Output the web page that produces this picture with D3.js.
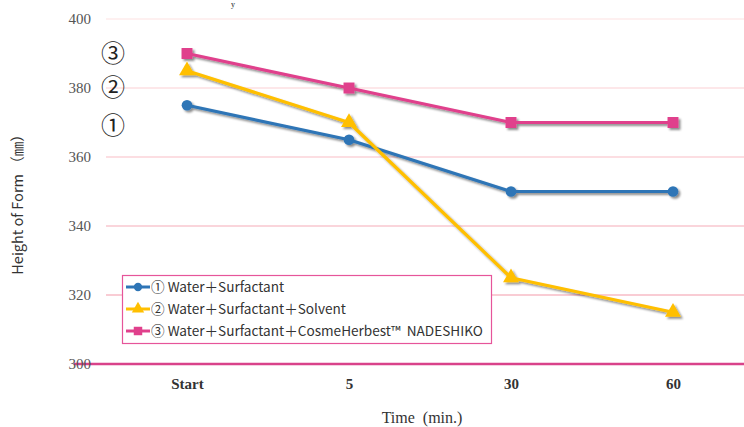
<!DOCTYPE html>
<html><head><meta charset="utf-8">
<script src="https://cdn.jsdelivr.net/npm/d3@7"></script>
<style>body{margin:0;background:#fff}svg{display:block}</style>
</head><body>
<svg id="c" width="744" height="427"></svg>
<script>
const categories = ["Start", "5", "30", "60"];
const seriesNames = ["① Water＋Surfactant", "② Water＋Surfactant＋Solvent", "③ Water＋Surfactant＋CosmeHerbest™\u00a0\u00a0NADESHIKO"];
const water = [375, 365, 350, 350];
const solvent = [385, 370, 325, 315];
const nadeshiko = [390, 380, 370, 370];
const yTicks = [300, 320, 340, 360, 380, 400];
const circledLabels = [["③", 390], ["②", 380], ["①", 369]];

const serif = "'Liberation Serif', 'Times New Roman', serif";
const cjk = "'Noto Sans CJK JP', 'Noto Sans', sans-serif";

const svg = d3.select("#c");
const defs = svg.append("defs");
const f = defs.append("filter").attr("id","sh").attr("x","-20%").attr("y","-20%").attr("width","140%").attr("height","140%");
f.append("feDropShadow").attr("dx",2).attr("dy",2).attr("stdDeviation",1.2).attr("flood-color","#000").attr("flood-opacity",0.45);

const x = d3.scalePoint().domain(categories).range([187, 673]);
const y = d3.scaleLinear().domain([300, 400]).range([364, 19]);

const gridColor = d3.scaleLinear().domain([400, 320]).range(["#fde2e2", "#f49aaa"]);
svg.append("g").selectAll("line").data(yTicks.filter(t => t > 300)).join("line")
  .attr("x1", 106).attr("x2", 744)
  .attr("y1", d => y(d)).attr("y2", d => y(d))
  .attr("stroke", d => gridColor(d)).attr("stroke-width", 1.2);
svg.append("line").attr("x1", 74).attr("x2", 744).attr("y1", y(300)).attr("y2", y(300))
  .attr("stroke", "#d9428a").attr("stroke-width", 2.5);

const yAxis = d3.axisLeft(y).tickValues(yTicks).tickSize(0).tickPadding(0);
const yg = svg.append("g").attr("transform", "translate(91,0)").call(yAxis)
  .attr("font-family", serif).attr("font-size", 15);
yg.select(".domain").remove();
yg.selectAll("text").style("font-family", serif).style("font-size", "15px").attr("fill", "#555");

const xAxis = d3.axisBottom(x).tickSize(0).tickPadding(0);
const xg = svg.append("g").attr("transform", "translate(0,378)").call(xAxis)
  .attr("font-family", serif).attr("font-size", 15);
xg.select(".domain").remove();
xg.selectAll("text").style("font-family", serif).style("font-size", "15px")
  .attr("font-weight", "bold").attr("fill", "#333");

svg.append("text").attr("x", 422).attr("y", 423).attr("text-anchor", "middle")
  .style("font-family", serif).attr("font-size", 16).attr("fill", "#333")
  .text("Time\u00a0\u00a0(min.)");
svg.append("text").attr("transform", "translate(23,201) rotate(-90)").attr("text-anchor", "middle")
  .style("font-family", cjk).attr("font-size", 14.5).attr("fill", "#333")
  .text("Height of Form\u00a0（㎜）");

svg.append("text").attr("x", 231).attr("y", 7).style("font-family", serif)
  .attr("font-size", 8).attr("fill", "#222").text("y");

svg.append("g").selectAll("text").data(circledLabels).join("text")
  .attr("x", 113).attr("y", d => y(d[1]) + 8).attr("text-anchor", "middle")
  .style("font-family", cjk).attr("font-size", 24).attr("fill", "#222")
  .text(d => d[0]);

const series = [
  {name: seriesNames[0], values: water, color: "#2e75b6", shape: d3.symbolCircle, size: 90},
  {name: seriesNames[1], values: solvent, color: "#ffbf00", shape: d3.symbolTriangle, size: 110},
  {name: seriesNames[2], values: nadeshiko, color: "#e0408c", shape: d3.symbolSquare, size: 120}
];

const line = d3.line().x((d, i) => x(categories[i])).y(d => y(d));
const plot = svg.append("g").attr("filter", "url(#sh)");
series.forEach(s => {
  const g = plot.append("g");
  g.append("path").datum(s.values).attr("d", line).attr("fill", "none")
    .attr("stroke", s.color).attr("stroke-width", 3.2).attr("stroke-linejoin", "round");
  g.selectAll("path.m").data(s.values).join("path").attr("class", "m")
    .attr("transform", (d, i) => `translate(${x(categories[i])},${y(d)})`)
    .attr("d", d3.symbol().type(s.shape).size(s.size)).attr("fill", s.color);
});

const lg = svg.append("g");
lg.append("rect").attr("x", 122.5).attr("y", 275.5).attr("width", 369).attr("height", 68)
  .attr("fill", "#fff").attr("stroke", "#e6559a").attr("stroke-width", 1.2);
series.forEach((s, i) => {
  const cy = 287 + i * 22;
  lg.append("line").attr("x1", 126).attr("x2", 150).attr("y1", cy).attr("y2", cy)
    .attr("stroke", s.color).attr("stroke-width", 3);
  lg.append("path").attr("transform", `translate(138,${cy})`)
    .attr("d", d3.symbol().type(s.shape).size(s.size * 0.6)).attr("fill", s.color);
  lg.append("text").attr("x", 151).attr("y", cy + 5)
    .style("font-family", cjk).attr("font-size", 13.6).attr("fill", "#333")
    .text(s.name);
});
</script>
</body></html>
